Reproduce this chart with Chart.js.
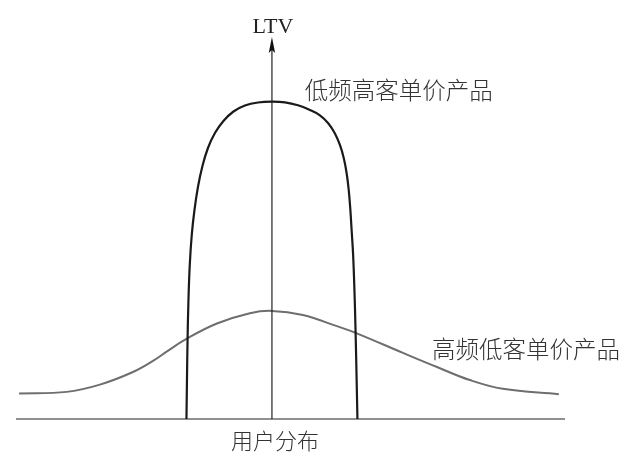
<!DOCTYPE html>
<html>
<head>
<meta charset="utf-8">
<script src="https://cdn.jsdelivr.net/npm/chart.js@4.4.1/dist/chart.umd.min.js"></script>
<style>
  html, body { margin: 0; padding: 0; background: #fff; }
  #wrap { width: 640px; height: 462px; }
</style>
</head>
<body>
<div id="wrap"><canvas id="c" width="640" height="462"></canvas></div>
<script>
// ---- data (x: user distribution, y: LTV) ----
const xAxisLabel = "用户分布";
const yAxisLabel = "LTV";
const seriesNames = ["低频高客单价产品", "高频低客单价产品"];

const lowFreqX = [-33.40, -33.20, -32.97, -32.62, -32.11, -31.33, -30.27, -28.91, -27.15, -25.00, -22.27, -18.95, -15.04, -10.55, -5.47, 0,
                  5.08, 10.16, 14.65, 18.75, 22.07, 24.61, 26.56, 28.05, 29.14, 29.96, 30.59, 31.13, 31.72, 32.23, 32.66, 33.05, 33.40];
const lowFreqY = [0, 10.21, 20.68, 31.15, 40.31, 48.17, 54.71, 60.73, 66.23, 70.94, 74.87, 78.01, 80.50, 82.07, 82.85, 83.06,
                  82.88, 82.12, 80.94, 79.50, 77.36, 74.74, 71.73, 68.32, 64.53, 60.21, 55.24, 49.48, 42.93, 33.77, 23.30, 11.52, 0];

const highFreqX = [-98.8, -80.2, -67.2, -54.3, -46.5, -41.0, -33.6, -21.5, -8.6, 0,
                   12.1, 25.4, 33.6, 51.2, 64.5, 77.3, 90.2, 112.1];
const highFreqY = [6.7, 7.1, 9.0, 12.3, 15.2, 17.7, 20.9, 25.0, 27.7, 28.3,
                   27.2, 24.3, 22.3, 17.3, 13.6, 10.2, 7.9, 6.5];

const toPoints = (xs, ys) => xs.map((x, i) => ({ x: x, y: ys[i] }));

const annotate = {
  id: 'annotate',
  afterDatasetsDraw(chart) {
    const { ctx, scales: { x, y } } = chart;
    const x0 = x.getPixelForValue(0);
    const y0 = y.getPixelForValue(0);
    const top = y.getPixelForValue(y.max);
    ctx.save();
    // x axis
    ctx.strokeStyle = '#222';
    ctx.lineWidth = 1.2;
    ctx.beginPath();
    ctx.moveTo(x.left, y0);
    ctx.lineTo(x.right, y0);
    ctx.stroke();
    // y axis
    ctx.beginPath();
    ctx.moveTo(x0, y0);
    ctx.lineTo(x0, top + 6);
    ctx.stroke();
    // arrow head
    ctx.fillStyle = '#111';
    ctx.beginPath();
    ctx.moveTo(x0, top);
    ctx.lineTo(x0 + 3.2, top + 16);
    ctx.lineTo(x0, top + 13);
    ctx.lineTo(x0 - 3.2, top + 16);
    ctx.closePath();
    ctx.fill();

    // texts
    ctx.fillStyle = '#222';
    ctx.textAlign = 'center';
    ctx.textBaseline = 'alphabetic';
    ctx.font = '22px "Liberation Serif", "DejaVu Serif", serif';
    ctx.fillText(yAxisLabel, x0 + 1, top - 4);

    ctx.fillStyle = '#333';
    ctx.textBaseline = 'middle';
    ctx.font = '300 22px "Noto Sans CJK SC", sans-serif';
    ctx.fillText(xAxisLabel, x0 + 3, y0 + 22);

    ctx.textAlign = 'left';
    ctx.font = '300 23.5px "Noto Sans CJK SC", sans-serif';
    ctx.fillText(seriesNames[0], x.getPixelForValue(12.8), y.getPixelForValue(86.2));
    ctx.fillText(seriesNames[1], x.getPixelForValue(62.5), y.getPixelForValue(18.2));
    ctx.restore();
  }
};

new Chart(document.getElementById('c'), {
  type: 'scatter',
  data: {
    datasets: [
      {
        label: seriesNames[0],
        data: toPoints(lowFreqX, lowFreqY),
        showLine: true,
        borderColor: '#1a1a1a',
        borderWidth: 2.2,
        pointRadius: 0,
        tension: 0.4,
        fill: false
      },
      {
        label: seriesNames[1],
        data: toPoints(highFreqX, highFreqY),
        showLine: true,
        borderColor: '#6e6e6e',
        borderWidth: 2,
        pointRadius: 0,
        tension: 0.4,
        fill: false
      }
    ]
  },
  options: {
    responsive: false,
    animation: false,
    devicePixelRatio: 1,
    layout: { padding: { left: 16, right: 75, top: 37, bottom: 43 } },
    plugins: { legend: { display: false }, tooltip: { enabled: false }, title: { display: false } },
    scales: {
      x: { type: 'linear', min: -100, max: 114.5, display: false },
      y: { type: 'linear', min: 0, max: 100, display: false }
    }
  },
  plugins: [annotate]
});
</script>
</body>
</html>
